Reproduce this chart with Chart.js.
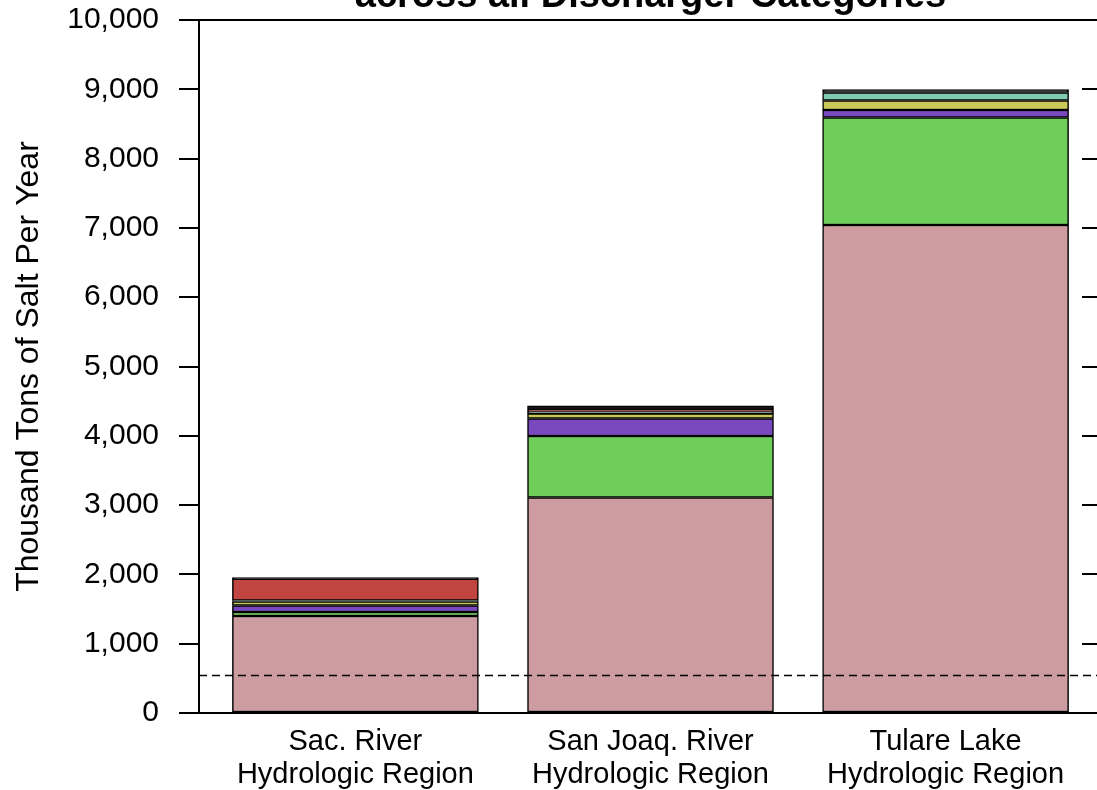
<!DOCTYPE html>
<html>
<head>
<meta charset="utf-8">
<script src="https://cdn.jsdelivr.net/npm/chart.js@4.4.0/dist/chart.umd.min.js"></script>
<style>
html,body{margin:0;padding:0;background:#fff;overflow:hidden;width:1097px;height:790px}
#wrap{position:absolute;left:0;top:-18px;width:1110px;height:808px}
</style>
</head>
<body>
<div id="wrap"><canvas id="c" width="1110" height="808"></canvas></div>
<script>
// ---- data ----
const categories = [["Sac. River","Hydrologic Region"],["San Joaq. River","Hydrologic Region"],["Tulare Lake","Hydrologic Region"]];
const seriesPink   = [1400, 3110, 7042];
const seriesGreen  = [57, 887, 1551];
const seriesPurple = [94, 253, 108];
const seriesYellow = [58, 70, 137];
const seriesTeal   = [15, 25, 116];
const seriesRed    = [311, 28, 0];
const seriesDark   = [20, 60, 43];
const yTickValues  = [0,1000,2000,3000,4000,5000,6000,7000,8000,9000,10000];
const referenceLevel = 542;
const chartTitle = "across all Discharger Categories";
const yAxisTitle = "Thousand Tons of Salt Per Year";

const FONT = '"Liberation Sans", Arial, Helvetica, sans-serif';
Chart.defaults.font.family = FONT;
Chart.defaults.color = '#000';

const X_MIN = -0.53, X_MAX = 2.53;

function barSet(vals, color){
  return {
    type:'bar',
    data: vals.map((v,i)=>({x:i, y:v})),
    backgroundColor: color,
    borderColor: '#000',
    borderWidth: 1.5,
    borderSkipped: false,
    barThickness: 246,
    stack: 'salt',
    order: 1
  };
}

const titlePlugin = {
  id:'cutTitle',
  afterDraw(chart){
    const a = chart.chartArea, ctx = chart.ctx;
    ctx.save();
    ctx.font = 'bold 38px ' + FONT;
    ctx.fillStyle = '#000';
    ctx.textAlign = 'center';
    ctx.textBaseline = 'alphabetic';
    ctx.fillText(chartTitle, (a.left + a.right)/2, a.top - 13);
    ctx.restore();
  }
};

const rightTicks = {
  id:'rightTicks',
  afterDraw(chart){
    const y = chart.scales.y, a = chart.chartArea, ctx = chart.ctx;
    ctx.save();
    ctx.strokeStyle = '#000';
    ctx.lineWidth = 2;
    y.ticks.forEach(t=>{
      if (t.value === 0 || t.value === 10000) return;
      const py = Math.round(y.getPixelForValue(t.value));
      ctx.beginPath(); ctx.moveTo(a.right-20, py); ctx.lineTo(a.right, py); ctx.stroke();
    });
    ctx.beginPath(); ctx.moveTo(a.right, a.top); ctx.lineTo(a.right, a.bottom); ctx.stroke();
    ctx.restore();
  }
};

new Chart(document.getElementById('c'), {
  type:'bar',
  data:{
    datasets:[
      {
        type:'line',
        data:[{x:X_MIN, y:referenceLevel},{x:X_MAX, y:referenceLevel}],
        borderColor:'#000', borderWidth:1.5, borderDash:[8,5],
        pointRadius:0, fill:false, stack:'ref', order:0
      },
      barSet(seriesPink,   '#cc9ca0'),
      barSet(seriesGreen,  '#6fcd5a'),
      barSet(seriesPurple, '#7a49c0'),
      barSet(seriesYellow, '#c9c95a'),
      barSet(seriesTeal,   '#80ccb0'),
      barSet(seriesRed,    '#c0443f'),
      barSet(seriesDark,   '#1a1a1a')
    ]
  },
  options:{
    responsive:false,
    animation:false,
    devicePixelRatio:1,
    layout:{padding:{left:0,right:8,top:2,bottom:0}},
    plugins:{legend:{display:false}, tooltip:{enabled:false}, title:{display:false}},
    scales:{
      x:{
        type:'linear', min:X_MIN, max:X_MAX, stacked:true, offset:false,
        afterBuildTicks: s => { s.ticks = categories.map((c,i)=>({value:i})); },
        ticks:{
          callback: v => categories[v],
          font:{size:29, lineHeight:1.14}, color:'#000',
          padding:12, maxRotation:0, autoSkip:false
        },
        grid:{display:false, drawTicks:false, offset:false},
        border:{display:true, color:'#000', width:2},
        afterFit: s => { s.height = 77; }
      },
      y:{
        stacked:true, min:0, max:10000,
        afterBuildTicks: s => { s.ticks = yTickValues.map(v=>({value:v})); },
        ticks:{
          callback: v => Number(v).toLocaleString('en-US'),
          font:{size:30}, color:'#000', padding:20
        },
        grid:{
          color: c => (c.tick && (c.tick.value === 0 || c.tick.value === 10000)) ? '#000' : 'rgba(0,0,0,0)',
          tickColor:'#000', tickLength:20, lineWidth:2
        },
        border:{display:true, color:'#000', width:2},
        title:{display:true, text:yAxisTitle, font:{size:32}, color:'#000', padding:{top:10,bottom:0}},
        afterFit: s => { s.width = 199; }
      }
    }
  },
  plugins:[titlePlugin, rightTicks]
});
</script>
</body>
</html>
